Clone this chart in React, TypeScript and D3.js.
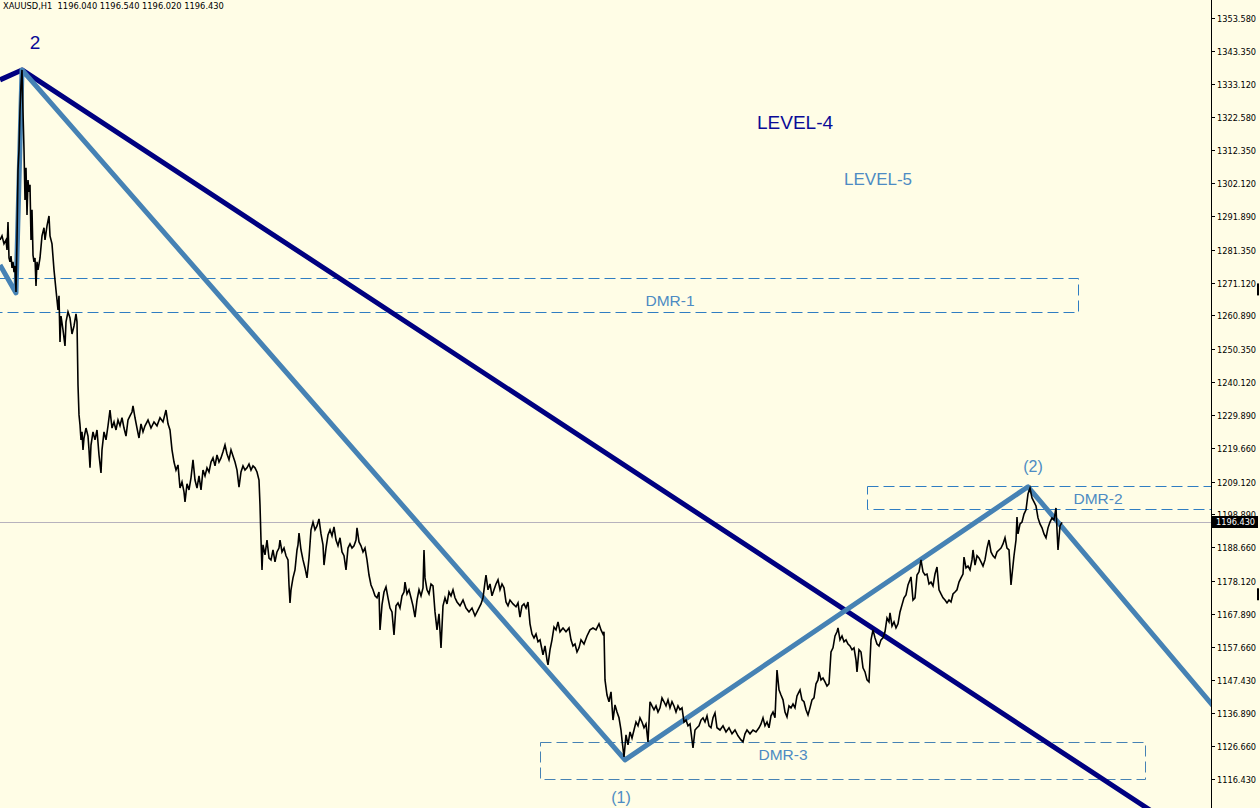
import { useEffect, useRef } from 'react';
import * as d3 from 'd3';

const W = 1260;
const H = 808;
const AXIS_X = 1211;

// H1 closes, hour offset from the left edge of the window
const hours = [
  0, 2, 4, 6, 7, 8, 9, 10, 11, 12, 13, 14, 15, 16, 17, 18, 19, 20, 21, 22,
  23, 24, 25, 26, 27, 28, 29, 30, 31, 32, 33, 34, 35, 36, 37, 38, 39, 40, 42, 44,
  45, 47, 49, 50, 52, 54, 56, 57, 58, 59, 60, 61, 63, 65, 66, 68, 70, 72, 74, 76,
  77, 78, 79, 80, 81, 82, 83, 84, 86, 88, 89, 90, 91, 93, 95, 97, 99, 101, 102, 104,
  106, 108, 110, 112, 114, 116, 118, 120, 122, 124, 126, 128, 130, 132, 133, 135, 137, 139, 141, 143,
  145, 148, 151, 154, 157, 160, 163, 166, 168, 170, 172, 174, 176, 178, 180, 182, 184, 185, 187, 189,
  191, 193, 195, 197, 199, 201, 203, 205, 207, 209, 211, 213, 215, 217, 219, 221, 223, 225, 227, 229,
  231, 233, 235, 237, 239, 241, 243, 245, 247, 249, 251, 253, 255, 257, 259, 260, 261, 262, 263, 265,
  267, 269, 271, 273, 275, 277, 279, 280, 282, 284, 286, 288, 289, 290, 291, 293, 295, 297, 298, 299,
  301, 303, 305, 307, 309, 311, 313, 315, 317, 319, 321, 323, 324, 326, 328, 330, 332, 334, 336, 338,
  340, 342, 344, 346, 348, 350, 352, 354, 356, 357, 359, 361, 363, 365, 367, 369, 371, 373, 375, 377,
  379, 380, 382, 384, 386, 388, 390, 392, 394, 396, 398, 400, 402, 404, 405, 407, 409, 411, 413, 415,
  417, 419, 421, 423, 424, 425, 427, 429, 431, 433, 435, 437, 439, 441, 443, 445, 447, 449, 451, 453,
  455, 457, 460, 463, 466, 469, 472, 475, 478, 481, 483, 485, 486, 488, 490, 492, 494, 496, 498, 500,
  502, 504, 506, 508, 510, 513, 516, 518, 520, 522, 524, 526, 528, 530, 532, 534, 536, 538, 540, 542,
  543, 545, 547, 548, 550, 552, 554, 556, 558, 560, 563, 566, 569, 571, 573, 575, 577, 579, 581, 584,
  587, 590, 593, 596, 599, 601, 603, 604, 605, 607, 609, 611, 613, 615, 617, 619, 621, 622, 624, 626,
  628, 630, 632, 634, 636, 638, 640, 642, 644, 646, 648, 650, 652, 654, 656, 658, 660, 662, 664, 666,
  668, 670, 672, 674, 676, 678, 680, 682, 684, 686, 688, 690, 692, 693, 695, 697, 699, 701, 703, 705,
  707, 709, 711, 713, 715, 717, 720, 723, 726, 729, 732, 735, 738, 741, 743, 745, 747, 750, 753, 756,
  759, 761, 763, 765, 767, 769, 771, 773, 775, 777, 779, 781, 783, 785, 787, 789, 791, 793, 795, 797,
  799, 800, 802, 804, 806, 808, 810, 812, 814, 816, 818, 819, 821, 823, 825, 827, 829, 831, 833, 835,
  837, 838, 840, 842, 844, 846, 848, 850, 852, 854, 856, 857, 859, 861, 863, 865, 867, 869, 871, 873,
  875, 877, 879, 881, 883, 885, 887, 889, 890, 892, 894, 896, 898, 900, 902, 904, 906, 908, 910, 911,
  913, 915, 917, 919, 921, 923, 925, 927, 929, 931, 933, 935, 937, 939, 941, 943, 945, 947, 949, 951,
  953, 955, 957, 959, 961, 963, 964, 966, 968, 970, 972, 973, 975, 977, 979, 981, 983, 985, 987, 989,
  991, 993, 995, 997, 999, 1001, 1003, 1005, 1007, 1009, 1011, 1012, 1014, 1016, 1017, 1018, 1020, 1022, 1024, 1026,
  1028, 1030, 1032, 1034, 1036, 1038, 1040, 1042, 1044, 1046, 1048, 1050, 1052, 1054, 1056, 1057, 1058, 1060, 1062,
];

const closes = [
  1284.4, 1285.7, 1283.2, 1284.4, 1281.3, 1290.0, 1278.8, 1277.6, 1279.4, 1275.7, 1277.6, 1274.4, 1276.3, 1268.2, 1284.4, 1306.2, 1312.5, 1324.9, 1332.7, 1337.4,
  1324.3, 1312.5, 1296.9, 1306.9, 1292.2, 1303.1, 1299.4, 1301.6, 1284.4, 1293.8, 1279.7, 1277.6, 1278.8, 1270.1, 1277.6, 1275.1, 1276.9, 1278.8, 1285.7, 1288.2,
  1284.4, 1288.8, 1291.9, 1285.7, 1283.2, 1275.1, 1268.8, 1265.7, 1262.6, 1267.0, 1252.6, 1260.7, 1256.4, 1251.4, 1258.9, 1262.0, 1260.1, 1255.1, 1257.6, 1261.4,
  1258.9, 1239.2, 1229.9, 1226.8, 1222.1, 1224.6, 1219.0, 1222.7, 1225.8, 1223.3, 1219.0, 1213.4, 1220.5, 1224.6, 1222.1, 1225.2, 1217.4, 1211.8, 1219.0, 1224.6,
  1222.1, 1226.5, 1231.4, 1225.8, 1227.7, 1225.2, 1228.3, 1226.5, 1229.0, 1225.8, 1223.3, 1228.3, 1229.6, 1230.8, 1232.7, 1229.0, 1225.8, 1222.7, 1227.1, 1224.6,
  1226.5, 1228.3, 1225.8, 1227.7, 1226.5, 1229.0, 1227.7, 1231.4, 1227.1, 1225.2, 1219.0, 1215.2, 1212.7, 1214.3, 1207.1, 1209.0, 1205.9, 1202.8, 1208.4, 1206.5,
  1210.3, 1215.9, 1209.6, 1207.1, 1210.9, 1206.5, 1212.7, 1210.9, 1213.4, 1212.1, 1215.2, 1216.5, 1214.0, 1217.4, 1215.2, 1216.5, 1218.4, 1220.5, 1217.7, 1215.9,
  1219.0, 1217.1, 1215.2, 1212.7, 1207.4, 1212.1, 1214.0, 1212.7, 1213.4, 1214.6, 1212.7, 1214.0, 1213.4, 1212.1, 1209.6, 1201.8, 1190.9, 1181.6, 1189.4, 1186.3,
  1190.9, 1185.3, 1184.7, 1187.8, 1184.1, 1187.2, 1188.4, 1190.9, 1187.2, 1188.4, 1186.0, 1184.7, 1176.9, 1171.3, 1175.4, 1179.1, 1181.6, 1187.8, 1189.4, 1193.1,
  1187.8, 1184.7, 1182.2, 1179.1, 1185.3, 1194.1, 1196.5, 1194.1, 1195.3, 1197.5, 1192.8, 1189.4, 1183.1, 1188.4, 1192.5, 1194.1, 1192.2, 1195.0, 1190.9, 1189.1,
  1191.6, 1187.2, 1186.0, 1181.6, 1188.4, 1189.7, 1188.4, 1189.1, 1190.9, 1194.7, 1190.3, 1189.1, 1187.2, 1188.4, 1184.7, 1180.0, 1176.9, 1175.4, 1173.5, 1172.9,
  1174.7, 1162.9, 1170.7, 1174.7, 1176.3, 1172.9, 1169.7, 1168.5, 1161.3, 1170.4, 1171.3, 1169.7, 1173.5, 1174.7, 1177.8, 1174.1, 1175.4, 1172.9, 1170.4, 1166.9,
  1172.2, 1175.4, 1173.5, 1176.0, 1187.8, 1179.1, 1175.4, 1174.1, 1177.2, 1176.6, 1168.5, 1162.9, 1167.9, 1157.3, 1170.4, 1172.9, 1171.0, 1174.7, 1173.5, 1175.4,
  1172.9, 1171.6, 1170.4, 1172.2, 1169.7, 1168.5, 1169.7, 1167.3, 1169.1, 1171.0, 1172.9, 1177.8, 1180.0, 1175.4, 1177.2, 1173.5, 1175.4, 1177.2, 1178.5, 1175.4,
  1177.2, 1176.0, 1171.6, 1170.4, 1172.2, 1171.0, 1170.1, 1171.3, 1166.9, 1170.4, 1171.0, 1169.7, 1171.6, 1164.8, 1161.6, 1160.4, 1161.6, 1159.2, 1159.8, 1156.7,
  1155.1, 1157.9, 1153.5, 1152.0, 1156.7, 1159.8, 1163.8, 1162.9, 1165.4, 1162.3, 1163.5, 1162.3, 1163.5, 1159.8, 1157.9, 1158.5, 1156.0, 1157.3, 1159.8, 1158.5,
  1161.0, 1162.9, 1163.5, 1162.9, 1164.8, 1162.9, 1161.6, 1162.3, 1147.3, 1142.6, 1140.5, 1143.6, 1134.8, 1139.5, 1137.3, 1135.5, 1131.7, 1128.6, 1123.3, 1130.2,
  1127.1, 1131.1, 1129.2, 1131.7, 1134.2, 1133.0, 1135.5, 1134.2, 1132.4, 1133.6, 1128.0, 1140.5, 1139.2, 1138.0, 1139.2, 1137.3, 1138.6, 1141.7, 1140.5, 1139.2,
  1141.1, 1138.6, 1140.5, 1139.2, 1137.3, 1139.2, 1138.0, 1138.6, 1134.2, 1134.8, 1133.0, 1133.6, 1128.6, 1126.1, 1131.7, 1132.4, 1133.0, 1134.8, 1135.5, 1134.2,
  1136.1, 1133.0, 1132.4, 1135.5, 1137.0, 1132.4, 1131.7, 1133.0, 1131.1, 1132.4, 1130.5, 1131.7, 1129.9, 1128.6, 1128.0, 1130.5, 1131.7, 1130.5, 1131.7, 1131.1,
  1132.4, 1133.6, 1135.5, 1133.0, 1134.2, 1132.4, 1136.1, 1137.3, 1135.5, 1150.4, 1144.2, 1142.6, 1141.1, 1137.3, 1135.8, 1139.2, 1138.6, 1139.8, 1138.6, 1142.3,
  1143.6, 1144.2, 1141.1, 1140.5, 1138.0, 1136.4, 1138.6, 1141.1, 1141.7, 1146.1, 1147.3, 1149.8, 1147.3, 1147.9, 1146.7, 1145.4, 1146.1, 1156.0, 1157.3, 1161.0,
  1162.3, 1163.5, 1159.8, 1161.0, 1159.2, 1159.8, 1158.5, 1157.9, 1156.7, 1157.3, 1153.5, 1149.8, 1156.7, 1156.0, 1151.1, 1149.8, 1147.3, 1146.7, 1159.8, 1162.9,
  1160.4, 1158.5, 1157.9, 1159.8, 1160.4, 1162.3, 1166.6, 1165.4, 1168.2, 1164.1, 1165.4, 1163.5, 1164.8, 1168.5, 1170.7, 1172.9, 1173.8, 1176.9, 1178.5, 1179.4,
  1172.2, 1172.9, 1180.0, 1181.0, 1184.7, 1181.0, 1180.0, 1180.3, 1177.2, 1177.8, 1176.6, 1180.3, 1182.5, 1175.4, 1174.1, 1172.9, 1172.2, 1171.3, 1172.2, 1171.6,
  1174.1, 1174.7, 1175.4, 1177.8, 1179.1, 1180.3, 1185.6, 1182.2, 1182.8, 1181.6, 1184.7, 1187.8, 1183.1, 1186.0, 1185.3, 1184.1, 1182.8, 1184.7, 1188.4, 1190.9,
  1187.2, 1186.0, 1185.3, 1187.2, 1187.8, 1188.4, 1189.7, 1191.6, 1188.4, 1187.8, 1176.9, 1180.0, 1186.0, 1190.9, 1198.1, 1192.8, 1195.9, 1196.5, 1199.0, 1200.3,
  1205.3, 1207.1, 1204.0, 1202.8, 1201.5, 1197.8, 1195.9, 1194.7, 1192.8, 1191.6, 1194.7, 1196.5, 1197.8, 1197.2, 1200.9, 1194.1, 1187.8, 1195.3, 1196.43,
];

const lastBid = 1196.43;
const headerSymbol = 'XAUUSD,H1';
const headerOHLC = ['1196.040', '1196.540', '1196.020', '1196.430'];

const priceTicks = [
  1353.58, 1343.35, 1333.12, 1322.58, 1312.35, 1302.12, 1291.89, 1281.35, 1271.12, 1260.89, 1250.35, 1240.12,
  1229.89, 1219.66, 1209.12, 1198.89, 1188.66, 1178.12, 1167.89, 1157.66, 1147.43, 1136.89, 1126.66, 1116.43,
];

// wave lines (bar, price)
const level4Bars = [0, 22, 1160];
const level4Prices = [1334.3, 1337.4, 1104.7];
const level5Bars = [0, 16, 22, 625, 1028, 1215];
const level5Prices = [1276.6, 1267.9, 1337.4, 1122.4, 1207.5, 1138.5];

// demand/supply rectangles
const dmrNames = ['DMR-1', 'DMR-2', 'DMR-3'];
const dmrFrom = [-20, 867, 540];
const dmrTo = [1078, 1240, 1145];
const dmrHigh = [1272.6, 1207.8, 1128.0];
const dmrLow = [1262.0, 1200.6, 1116.45];
const dmrLabelBar = [670, 1098, 783];
const dmrLabelPrice = [1263.8, 1202.1, 1122.4];

const waveText = ['2', '(1)', '(2)', 'LEVEL-4', 'LEVEL-5'];
const waveBar = [35, 621, 1033, 757, 844];
const wavePrice = [1343.9, 1109.0, 1212.1, 1319.0, 1301.6];

export default function App() {
  const svgRef = useRef<SVGSVGElement>(null);

  useEffect(() => {
    const navy = '#000080';
    const steel = '#4682B4';
    const dmrColor = '#2F7DC2';
    const labelBlue = '#4d8bc3';

    const x = d3.scaleLinear().domain([0, AXIS_X]).range([0, AXIS_X]);
    const y = d3.scaleLinear().domain([1116.43, 1353.58]).range([779, 18]);

    const svg = d3.select(svgRef.current);
    svg.selectAll('*').remove();

    svg.append('rect').attr('width', W).attr('height', H).attr('fill', '#FFFDE6');

    svg
      .append('clipPath')
      .attr('id', 'plot')
      .append('rect')
      .attr('x', 0)
      .attr('y', 0)
      .attr('width', AXIS_X)
      .attr('height', H);

    const plot = svg.append('g').attr('clip-path', 'url(#plot)');

    // current bid line
    const bidY = Math.round(y(lastBid)) + 0.5;
    plot
      .append('line')
      .attr('x1', 0)
      .attr('x2', AXIS_X)
      .attr('y1', bidY)
      .attr('y2', bidY)
      .attr('stroke', '#b7b2bd')
      .attr('stroke-width', 1);

    // rectangles
    dmrNames.forEach((name, i) => {
      plot
        .append('rect')
        .attr('x', Math.round(x(dmrFrom[i])) + 0.5)
        .attr('y', Math.round(y(dmrHigh[i])) + 0.5)
        .attr('width', Math.round(x(dmrTo[i]) - x(dmrFrom[i])))
        .attr('height', Math.round(y(dmrLow[i]) - y(dmrHigh[i])))
        .attr('fill', 'none')
        .attr('stroke', i === 2 ? steel : dmrColor)
        .attr('stroke-width', 1)
        .attr('stroke-dasharray', '11,5');
      plot
        .append('text')
        .attr('x', x(dmrLabelBar[i]))
        .attr('y', y(dmrLabelPrice[i]))
        .attr('text-anchor', 'middle')
        .attr('font-family', 'Liberation Sans, Arial, sans-serif')
        .attr('font-size', 15.5)
        .attr('fill', labelBlue)
        .text(name);
    });

    const drawWave = (bars: number[], prices: number[], color: string) => {
      const pts: [number, number][] = bars.map((b, i) => [x(b), y(prices[i])]);
      plot
        .append('path')
        .attr('d', d3.line()(pts))
        .attr('fill', 'none')
        .attr('stroke', color)
        .attr('stroke-width', 5)
        .attr('stroke-linejoin', 'round');
    };

    drawWave(level4Bars, level4Prices, navy);
    drawWave(level5Bars, level5Prices, steel);

    // price line
    const priceLine = d3
      .line<number>()
      .x((_, i) => x(hours[i]))
      .y(d => y(d));

    plot
      .append('path')
      .attr('d', priceLine(closes))
      .attr('fill', 'none')
      .attr('stroke', '#000')
      .attr('stroke-width', 1.6)
      .attr('stroke-linejoin', 'miter');

    // wave labels
    waveText.forEach((t, i) => {
      const dark = t === 'LEVEL-4' || t === '2';
      plot
        .append('text')
        .attr('x', x(waveBar[i]))
        .attr('y', y(wavePrice[i]))
        .attr('text-anchor', t.startsWith('LEVEL') ? 'start' : 'middle')
        .attr('font-family', 'Liberation Sans, Arial, sans-serif')
        .attr('font-size', dark ? 19 : t === 'LEVEL-5' ? 17 : 16)
        .attr('fill', dark ? '#0a0a96' : labelBlue)
        .text(t);
    });

    // header
    svg
      .append('text')
      .attr('x', 3)
      .attr('y', 9)
      .attr('font-family', 'DejaVu Sans, sans-serif')
      .attr('font-size', 8.3)
      .attr('fill', '#000')
      .attr('xml:space', 'preserve')
      .text(`${headerSymbol}  ${headerOHLC.join(' ')}`);

    // price axis
    svg
      .append('line')
      .attr('x1', AXIS_X + 0.5)
      .attr('x2', AXIS_X + 0.5)
      .attr('y1', 0)
      .attr('y2', H)
      .attr('stroke', '#000');

    const axis = svg.append('g');
    priceTicks.forEach(p => {
      const yy = Math.round(y(p)) + 0.5;
      axis
        .append('line')
        .attr('x1', AXIS_X)
        .attr('x2', AXIS_X + 4)
        .attr('y1', yy)
        .attr('y2', yy)
        .attr('stroke', '#000');
      axis
        .append('text')
        .attr('x', AXIS_X + 6)
        .attr('y', yy + 3)
        .attr('font-family', 'DejaVu Sans, sans-serif')
        .attr('font-size', 8.2)
        .attr('fill', '#000')
        .text(p.toFixed(3));
    });

    // bid tag
    const by = Math.round(y(lastBid));
    svg
      .append('rect')
      .attr('x', AXIS_X + 1)
      .attr('y', by - 6)
      .attr('width', 46)
      .attr('height', 12)
      .attr('fill', '#000');
    svg
      .append('text')
      .attr('x', AXIS_X + 5)
      .attr('y', by + 3)
      .attr('font-family', 'DejaVu Sans, sans-serif')
      .attr('font-size', 8.2)
      .attr('fill', '#fff')
      .text(lastBid.toFixed(3));

    // scroll marks at the right edge
    [1269.0, 1174.0].forEach(p => {
      svg
        .append('rect')
        .attr('x', 1257)
        .attr('y', y(p) - 6)
        .attr('width', 2)
        .attr('height', 12)
        .attr('fill', '#000');
    });
  }, []);

  return (
    <svg
      ref={svgRef}
      width={W}
      height={H}
      style={{ position: 'absolute', left: 0, top: 0, display: 'block' }}
    ></svg>
  );
}
